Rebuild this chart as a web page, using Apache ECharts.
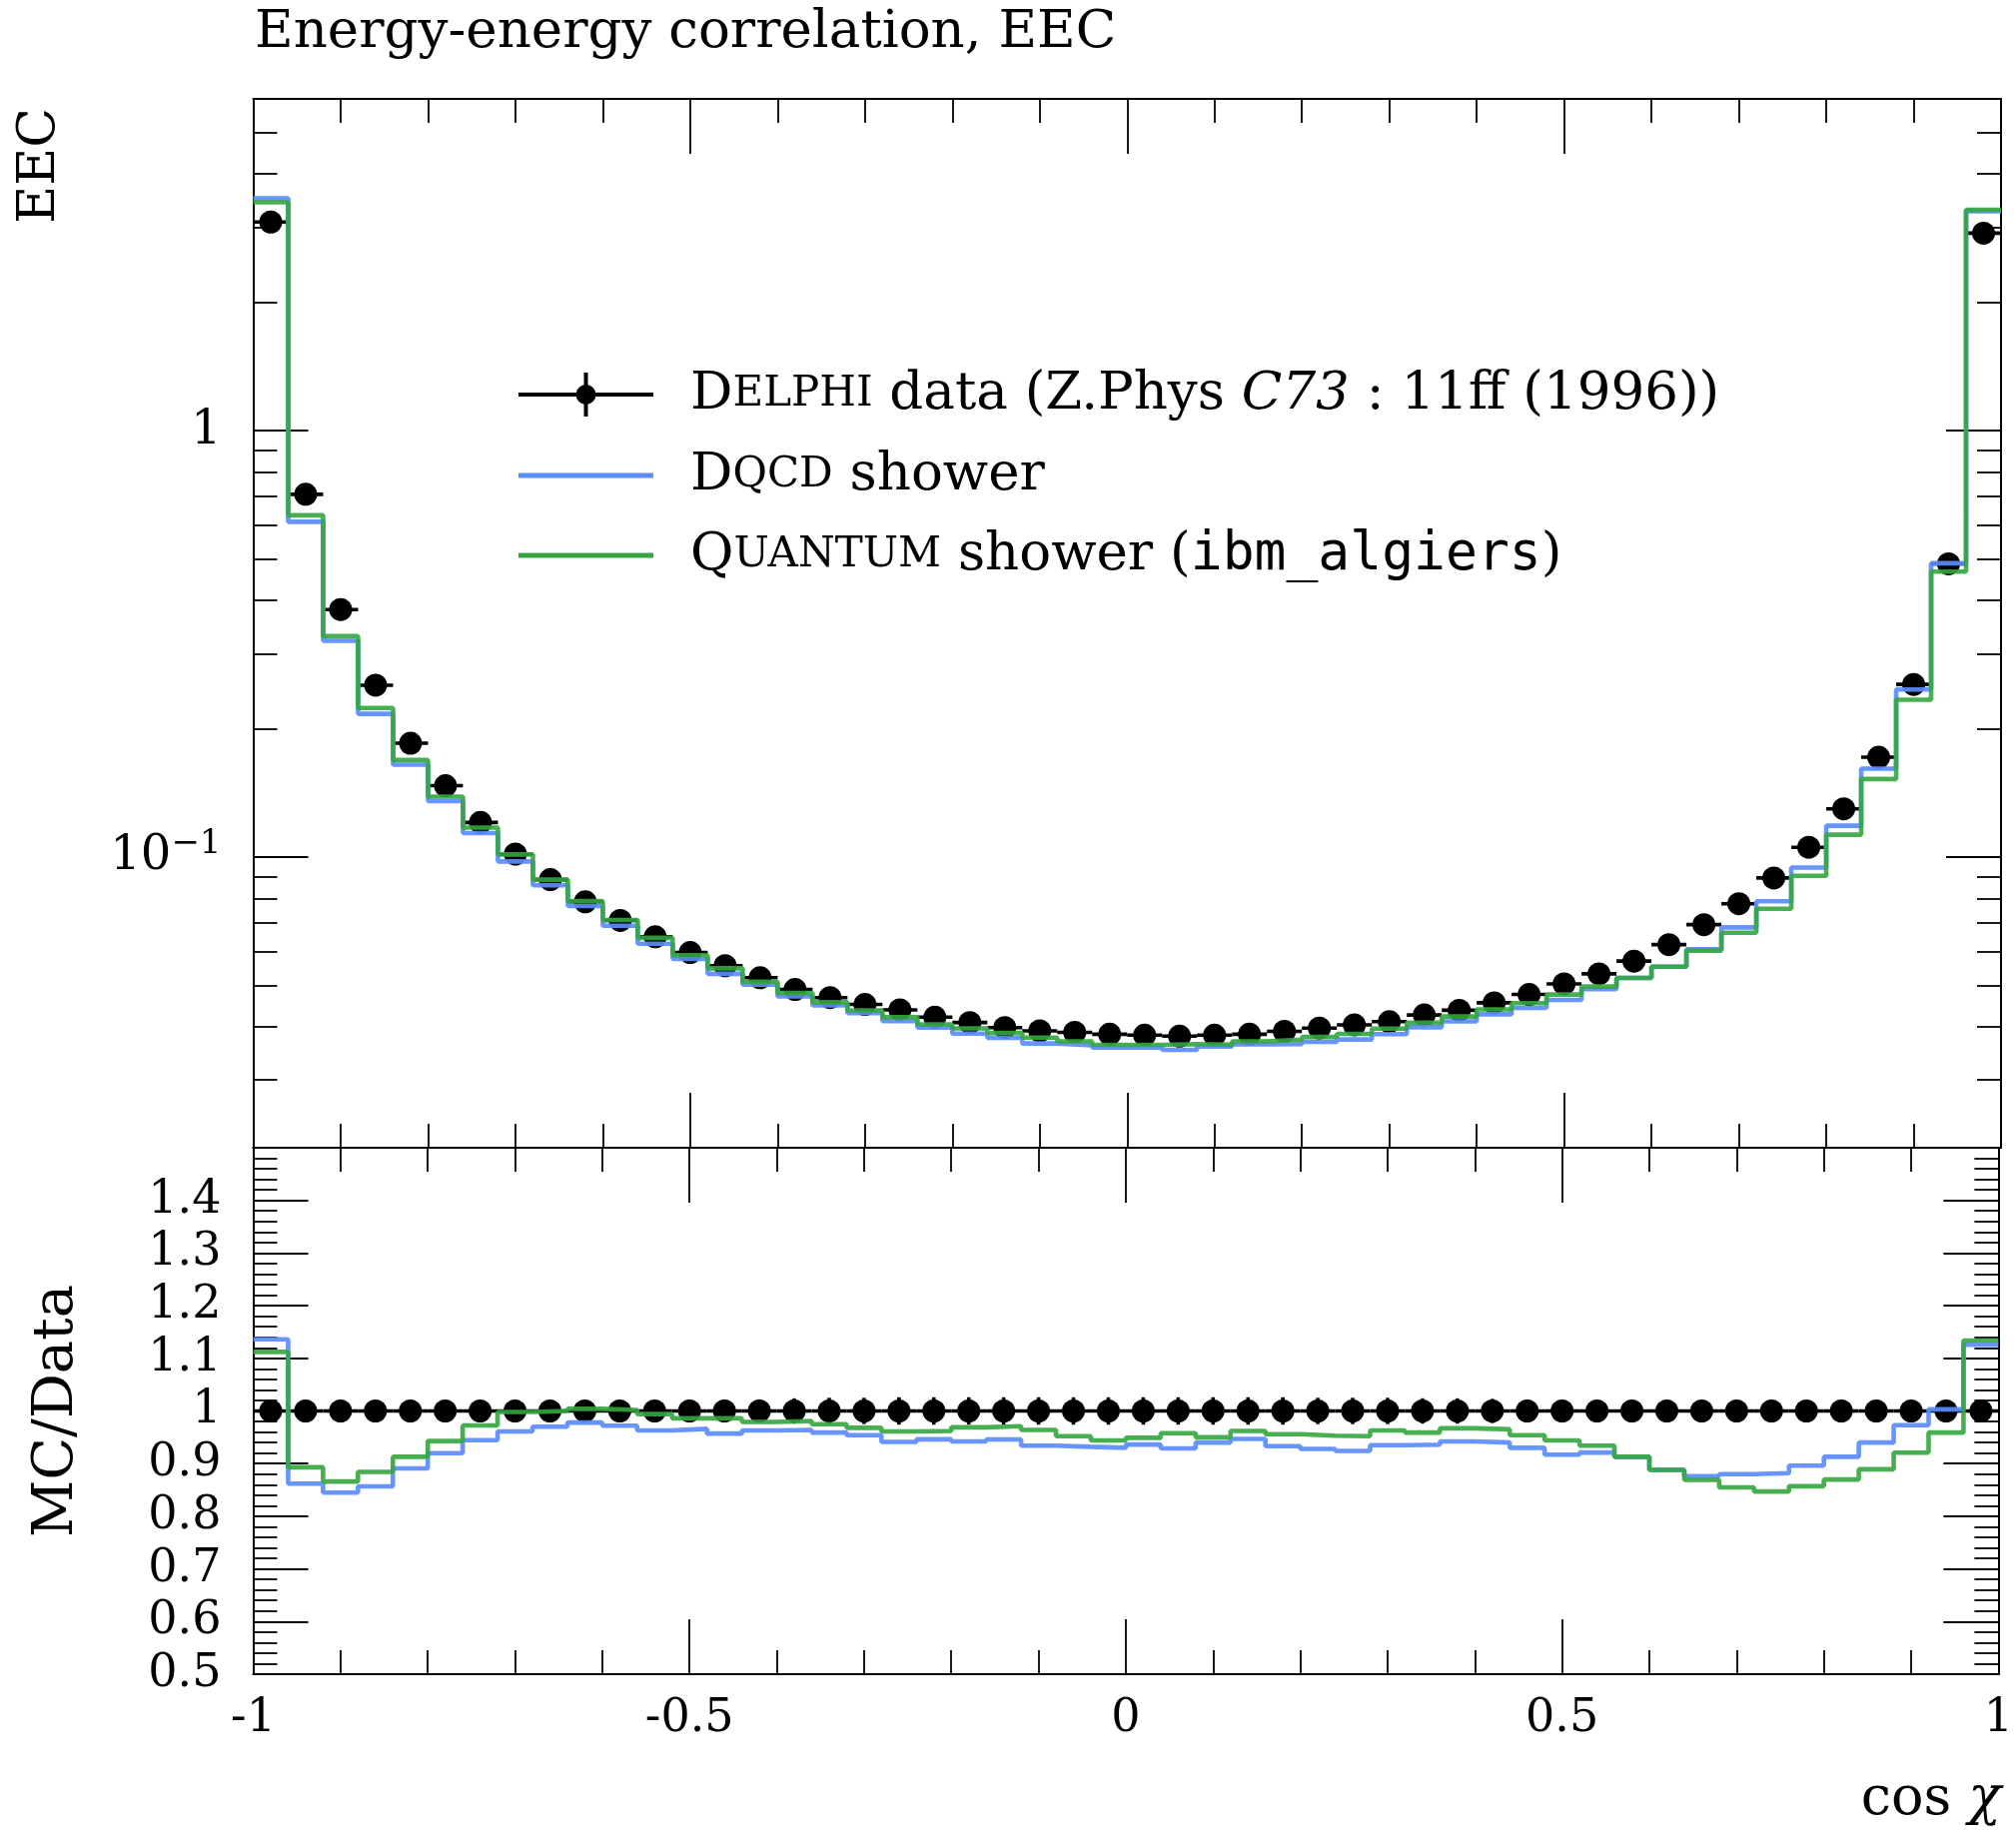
<!DOCTYPE html>
<html>
<head>
<meta charset="utf-8">
<title>Energy-energy correlation, EEC</title>
<script src="https://cdn.jsdelivr.net/npm/echarts@6/dist/echarts.min.js"></script>
<style>
  html, body { margin: 0; padding: 0; background: #ffffff; }
  #chart { width: 2018px; height: 1839px; }
</style>
</head>
<body>
<div id="chart"></div>
<script>
// Bin edges in cos(chi): 50 bins of width 0.04
const binEdges = [-1, -0.96, -0.92, -0.88, -0.84, -0.8, -0.76, -0.72, -0.68, -0.64,
  -0.6, -0.56, -0.52, -0.48, -0.44, -0.4, -0.36, -0.32, -0.28, -0.24,
  -0.2, -0.16, -0.12, -0.08, -0.04, 0, 0.04, 0.08, 0.12, 0.16,
  0.2, 0.24, 0.28, 0.32, 0.36, 0.4, 0.44, 0.48, 0.52, 0.56,
  0.6, 0.64, 0.68, 0.72, 0.76, 0.8, 0.84, 0.88, 0.92, 0.96, 1];

// DELPHI measurement (EEC per bin)
const delphiData = [3.086, 0.709, 0.3805, 0.2529, 0.1849, 0.147, 0.1205, 0.1016, 0.0885, 0.0785,
  0.0710, 0.0650, 0.0597, 0.0556, 0.0521, 0.0489, 0.0468, 0.0451, 0.0438, 0.0421,
  0.0409, 0.0398, 0.0391, 0.0388, 0.0384, 0.0382, 0.0380, 0.0382, 0.0384, 0.0390,
  0.0397, 0.0404, 0.0411, 0.0426, 0.0437, 0.0455, 0.0476, 0.0504, 0.0532, 0.0570,
  0.0623, 0.0694, 0.0777, 0.0893, 0.1054, 0.1297, 0.1714, 0.254, 0.487, 2.906];

// Relative uncertainty of the measurement
const delphiRelErr = [0.016, 0.012, 0.013, 0.014, 0.015, 0.016, 0.017, 0.018, 0.019, 0.020,
  0.020, 0.020, 0.021, 0.021, 0.022, 0.024, 0.025, 0.025, 0.026, 0.026,
  0.026, 0.026, 0.026, 0.026, 0.026, 0.026, 0.026, 0.026, 0.026, 0.026,
  0.025, 0.025, 0.025, 0.024, 0.024, 0.023, 0.021, 0.020, 0.019, 0.018,
  0.017, 0.016, 0.015, 0.014, 0.013, 0.012, 0.012, 0.012, 0.012, 0.014];

// DQCD (classical dipole) shower prediction
const dqcdShower = [3.506, 0.6112, 0.3215, 0.2167, 0.1647, 0.1352, 0.1138, 0.09764, 0.08585, 0.07677,
  0.06901, 0.06260, 0.05767, 0.05321, 0.05017, 0.04714, 0.04488, 0.04303, 0.04122, 0.03983,
  0.03853, 0.03765, 0.03652, 0.03616, 0.03571, 0.03576, 0.03530, 0.03591, 0.03636, 0.03639,
  0.03684, 0.03733, 0.03843, 0.03987, 0.04117, 0.04277, 0.04427, 0.04622, 0.04900, 0.05204,
  0.05532, 0.06079, 0.06838, 0.07876, 0.09444, 0.1184, 0.1611, 0.2471, 0.4885, 3.272];

// Quantum shower run on ibm_algiers
const quantumShower = [3.432, 0.6331, 0.3295, 0.2236, 0.1688, 0.1386, 0.1172, 0.1014, 0.0885, 0.07881,
  0.07114, 0.06461, 0.05886, 0.05482, 0.05101, 0.04797, 0.04563, 0.04366, 0.04209, 0.0405,
  0.03963, 0.03865, 0.03769, 0.03694, 0.03625, 0.03625, 0.03640, 0.03629, 0.03694, 0.03728,
  0.03783, 0.03846, 0.03958, 0.04085, 0.04226, 0.04391, 0.04541, 0.04758, 0.04969, 0.05204,
  0.05532, 0.06031, 0.06643, 0.07564, 0.09033, 0.1128, 0.1524, 0.2339, 0.4670, 3.295];

// Axis ticks and labels
const xTicks = [-1, -0.5, 0, 0.5, 1];
const eecMajorTicks = [0.1, 1];
const eecMinorTicks = [0.03, 0.04, 0.05, 0.06, 0.07, 0.08, 0.09,
  0.2, 0.3, 0.4, 0.5, 0.6, 0.7, 0.8, 0.9, 2, 3, 4, 5];
const ratioTicks = [0.5, 0.6, 0.7, 0.8, 0.9, 1, 1.1, 1.2, 1.3, 1.4];
const eecRange = [0.0208, 6];
const ratioRange = [0.5, 1.5];

const SERIF = 'DejaVu Serif';
const MONO = 'DejaVu Sans Mono';
const BLUE = '#5a8cfb';
const GREEN = '#34a53f';

// Histogram outline: one point per left edge, the last bin closed at x = 1
function stepPoints(values) {
  return binEdges.map((e, i) => [e, values[Math.min(i, values.length - 1)]]);
}
const centers = delphiData.map((_, i) => (binEdges[i] + binEdges[i + 1]) / 2);
const ratioOf = (vals) => vals.map((v, i) => v / delphiData[i]);

const mainPoints = delphiData.map((v, i) => [centers[i], v]);
const mainBars = delphiData.map((v, i) =>
  [binEdges[i], binEdges[i + 1], v, v * (1 - delphiRelErr[i]), v * (1 + delphiRelErr[i])]);
const ratioData = delphiData.map((v, i) => v / delphiData[i]);
const ratioPoints = ratioData.map((r, i) => [centers[i], r]);
const ratioBars = ratioData.map((r, i) =>
  [binEdges[i], binEdges[i + 1], r, r - delphiRelErr[i], r + delphiRelErr[i]]);

const tickStyle = { color: '#000', width: 1.8 };
const lineAxis = { show: true, onZero: false, lineStyle: { color: '#000', width: 2 } };

function xAxisDef(gridIndex, position, withLabels) {
  return {
    type: 'value', gridIndex, position, min: -1, max: 1, interval: 0.5,
    axisLine: lineAxis,
    axisTick: { show: true, inside: true, length: 55, lineStyle: tickStyle },
    minorTick: { show: true, splitNumber: 5, length: 24, lineStyle: tickStyle },
    splitLine: { show: false }, minorSplitLine: { show: false },
    axisLabel: withLabels ? {
      show: true, customValues: xTicks, margin: 22,
      fontFamily: SERIF, fontSize: 46, color: '#000',
      formatter: (v) => String(v)
    } : { show: false }
  };
}

function eecAxisDef(position, major, withLabels) {
  return {
    type: 'log', logBase: 10, gridIndex: 0, position,
    min: eecRange[0], max: eecRange[1],
    axisLine: major ? lineAxis : { show: false, onZero: false },
    axisTick: { show: true, inside: true, length: major ? 55 : 24, lineStyle: tickStyle,
      customValues: major ? eecMajorTicks : eecMinorTicks },
    splitLine: { show: false },
    axisLabel: withLabels ? {
      show: true, customValues: eecMajorTicks, margin: 32,
      fontFamily: SERIF, fontSize: 46, color: '#000',
      formatter: (v) => (Math.abs(v - 1) < 1e-9 ? '{n|1}' : '{n|10}{sup|−1}'),
      rich: {
        n: { fontFamily: SERIF, fontSize: 48, color: '#000' },
        sup: { fontFamily: SERIF, fontSize: 34, color: '#000', padding: [0, 0, 26, 0] }
      }
    } : { show: false }
  };
}

function ratioAxisDef(position, withLabels) {
  return {
    type: 'value', gridIndex: 1, position,
    min: ratioRange[0], max: ratioRange[1], interval: 0.1,
    axisLine: lineAxis,
    axisTick: { show: true, inside: true, length: 55, lineStyle: tickStyle },
    minorTick: { show: true, splitNumber: 5, length: 24, lineStyle: tickStyle },
    splitLine: { show: false }, minorSplitLine: { show: false },
    name: withLabels ? 'MC/Data' : '',
    nameLocation: 'middle', nameGap: 168, nameRotate: 90,
    nameTextStyle: { fontFamily: SERIF, fontSize: 56, color: '#000' },
    axisLabel: withLabels ? {
      show: true, customValues: ratioTicks, margin: 32,
      fontFamily: SERIF, fontSize: 46, color: '#000',
      formatter: (v) => (Math.abs(v - 1) < 1e-9 ? '1' : v.toFixed(1))
    } : { show: false }
  };
}

// Data points with error bars drawn through the axes' own scales
function errorBarSeries(xAxisIndex, yAxisIndex, rows) {
  return {
    type: 'custom', xAxisIndex, yAxisIndex, z: 3, silent: true, clip: true,
    encode: { x: [0, 1], y: [2, 3, 4] },
    data: rows,
    renderItem(params, api) {
      const lo = api.value(0), hi = api.value(1), y = api.value(2);
      const yLo = api.value(3), yHi = api.value(4);
      const mid = (lo + hi) / 2;
      const a = api.coord([lo, y]), b = api.coord([hi, y]);
      const c = api.coord([mid, yLo]), d = api.coord([mid, yHi]);
      const st = { stroke: '#000', lineWidth: 3.6 };
      return { type: 'group', children: [
        { type: 'line', shape: { x1: a[0], y1: a[1], x2: b[0], y2: b[1] }, style: st },
        { type: 'line', shape: { x1: c[0], y1: c[1], x2: d[0], y2: d[1] }, style: st }
      ] };
    }
  };
}

function histSeries(name, xAxisIndex, yAxisIndex, values, color, opacity, z) {
  return {
    name, type: 'line', xAxisIndex, yAxisIndex, step: 'end', z,
    data: stepPoints(values), symbol: 'none', showSymbol: false, silent: true,
    lineStyle: { color, width: 4.6, opacity }
  };
}

function pointSeries(xAxisIndex, yAxisIndex, pts) {
  return {
    type: 'scatter', xAxisIndex, yAxisIndex, z: 4, silent: true,
    data: pts, symbol: 'circle', symbolSize: 23,
    itemStyle: { color: '#000', opacity: 1 }
  };
}

const legendRows = [395, 476, 556];
const legendLine = [519, 654];
const legendText = 691;
const legendRich = {
  n: { fontFamily: SERIF, fontSize: 53, color: '#000' },
  sc: { fontFamily: SERIF, fontSize: 42, color: '#000' },
  it: { fontFamily: SERIF, fontSize: 53, fontStyle: 'italic', color: '#000' },
  tt: { fontFamily: MONO, fontSize: 53, color: '#000' }
};

const option = {
  animation: false,
  backgroundColor: '#ffffff',
  title: {
    text: 'Energy-energy correlation, EEC',
    left: 250, top: 2,
    textStyle: { fontFamily: SERIF, fontSize: 53, fontWeight: 'normal', color: '#000' }
  },
  grid: [
    { left: 253.5, right: 15, top: 99, height: 1050 },
    { left: 253.5, right: 15, top: 1149, height: 527 }
  ],
  xAxis: [
    xAxisDef(0, 'bottom', false),
    xAxisDef(0, 'top', false),
    xAxisDef(1, 'bottom', true),
    xAxisDef(1, 'top', false)
  ],
  yAxis: [
    eecAxisDef('left', true, true),
    eecAxisDef('left', false, false),
    eecAxisDef('right', true, false),
    eecAxisDef('right', false, false),
    ratioAxisDef('left', true),
    ratioAxisDef('right', false)
  ],
  series: [
    errorBarSeries(0, 0, mainBars),
    pointSeries(0, 0, mainPoints),
    histSeries('Dqcd shower', 0, 0, dqcdShower, BLUE, 0.92, 5),
    histSeries('Quantum shower (ibm_algiers)', 0, 0, quantumShower, GREEN, 0.9, 6),
    errorBarSeries(2, 4, ratioBars),
    pointSeries(2, 4, ratioPoints),
    histSeries('Dqcd ratio', 2, 4, ratioOf(dqcdShower), BLUE, 0.92, 5),
    histSeries('Quantum ratio', 2, 4, ratioOf(quantumShower), GREEN, 0.9, 6)
  ],
  graphic: [
    { type: 'text', x: 40, y: 108, rotation: Math.PI / 2, silent: true,
      style: { text: 'EEC', fontFamily: SERIF, fontSize: 52, fill: '#000',
        align: 'right', verticalAlign: 'middle' } },
    { type: 'text', x: 2003, y: 1802, silent: true,
      style: { text: '{n|cos }{it|χ}', align: 'right', verticalAlign: 'middle',
        rich: { n: { fontFamily: SERIF, fontSize: 54, color: '#000' },
                it: { fontFamily: SERIF, fontSize: 54, fontStyle: 'italic', color: '#000' } } } },
    { type: 'group', silent: true, children: [
      { type: 'line', shape: { x1: legendLine[0], y1: legendRows[0], x2: legendLine[1], y2: legendRows[0] },
        style: { stroke: '#000', lineWidth: 4 } },
      { type: 'line', shape: { x1: (legendLine[0] + legendLine[1]) / 2, y1: legendRows[0] - 22,
        x2: (legendLine[0] + legendLine[1]) / 2, y2: legendRows[0] + 22 },
        style: { stroke: '#000', lineWidth: 4 } },
      { type: 'circle', shape: { cx: (legendLine[0] + legendLine[1]) / 2, cy: legendRows[0], r: 10 },
        style: { fill: '#000' } },
      { type: 'text', x: legendText, y: legendRows[0],
        style: { text: '{n|D}{sc|ELPHI}{n| data (Z.Phys }{it|C73}{n| : 11ff (1996))}',
          verticalAlign: 'middle', rich: legendRich } },
      { type: 'line', shape: { x1: legendLine[0], y1: legendRows[1], x2: legendLine[1], y2: legendRows[1] },
        style: { stroke: BLUE, lineWidth: 4.8 } },
      { type: 'text', x: legendText, y: legendRows[1],
        style: { text: '{n|D}{sc|QCD}{n| shower}', verticalAlign: 'middle', rich: legendRich } },
      { type: 'line', shape: { x1: legendLine[0], y1: legendRows[2], x2: legendLine[1], y2: legendRows[2] },
        style: { stroke: GREEN, lineWidth: 4.8 } },
      { type: 'text', x: legendText, y: legendRows[2],
        style: { text: '{n|Q}{sc|UANTUM}{n| shower (}{tt|ibm_algiers}{n|)}',
          verticalAlign: 'middle', rich: legendRich } }
    ] }
  ]
};

const chart = echarts.init(document.getElementById('chart'), null, { renderer: 'canvas' });
chart.setOption(option);
</script>
</body>
</html>
